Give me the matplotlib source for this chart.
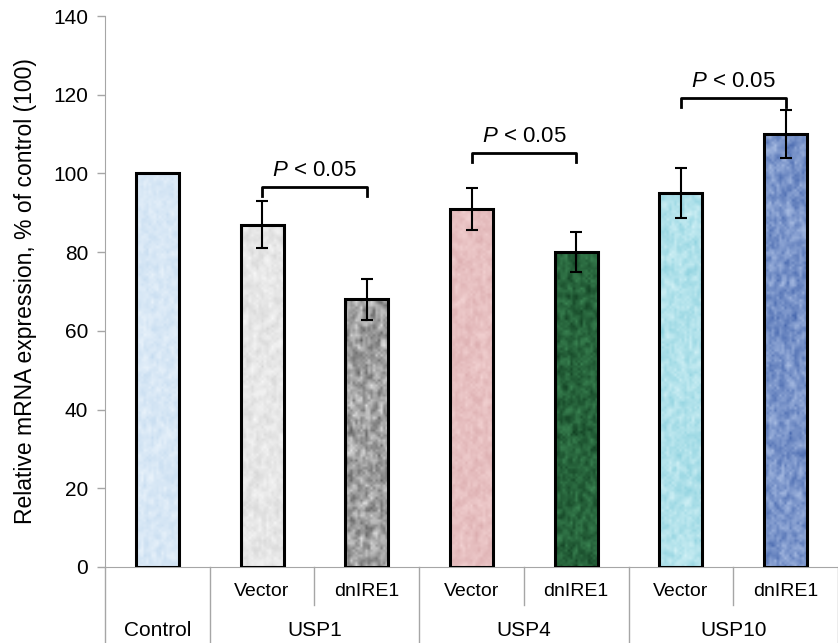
import numpy as np
import matplotlib
matplotlib.use("Agg")
import matplotlib.pyplot as plt
from matplotlib.lines import Line2D

plt.rcParams['font.family'] = ['Liberation Sans', 'DejaVu Sans']
plt.rcParams['mathtext.fontset'] = 'custom'
plt.rcParams['mathtext.it'] = 'Liberation Sans:italic'
plt.rcParams['mathtext.rm'] = 'Liberation Sans'

# ==========================================
# DATA
# ==========================================
groups = ['Control', 'USP1', 'USP4', 'USP10']
sub_labels = ['', 'Vector', 'dnIRE1', 'Vector', 'dnIRE1', 'Vector', 'dnIRE1']
values = [100, 87, 68, 91, 80, 95, 110]
errors = [0, 6, 5.3, 5.3, 5, 6.3, 6]
# pasangan yang dibandingkan (index bar kiri, index bar kanan, tinggi bracket)
pairs = [(1, 2, 96.5), (3, 4, 105.2), (5, 6, 119.2)]
p_text = '$P$ < 0.05'

# warna tekstur: (warna terang, warna gelap)
textures = [('#eaf3fb', '#c6dcf0'), ('#fafafa', '#d6d6d6'), ('#e2e2e2', '#5e5e5e'),
            ('#f3d3d3', '#dcaeb0'), ('#3f8c58', '#0e3a1e'), ('#d2f1f6', '#8fd2df'),
            ('#a9bde3', '#4566ad')]

# ==========================================
# FIGURE
# ==========================================
fig = plt.figure(figsize=(8.38, 6.43), dpi=100)
ax = fig.add_axes([105 / 838, 1 - 567 / 643, 1 - 105 / 838, 551 / 643])

x = np.arange(len(values))
bars = ax.bar(x, values, width=0.41, color='none', edgecolor='black', linewidth=2.2, zorder=3)

# isi bar dengan tekstur bintik-bintik (ukuran noise ikut ukuran piksel bar)
rng = np.random.default_rng(3)
for b, (c1, c2) in zip(bars, textures):
    rows = max(int(b.get_height() * 3.936 / 2.5), 2)
    noise = rng.random((rows, 17))
    noise = (noise + np.roll(noise, 1, 0) + np.roll(noise, 1, 1) + np.roll(noise, -1, 0)) / 4
    noise = (noise - noise.min()) / (noise.max() - noise.min())
    cmap = matplotlib.colors.LinearSegmentedColormap.from_list('t', [c2, c1])
    im = ax.imshow(noise, cmap=cmap, aspect='auto', interpolation='bilinear',
                   extent=[b.get_x(), b.get_x() + b.get_width(), 0, b.get_height()], zorder=2)
    im.set_clip_path(b)

ax.errorbar(x[1:], values[1:], yerr=errors[1:], fmt='none', ecolor='black',
            elinewidth=1.5, capsize=4, capthick=1.5, zorder=4)

# bracket signifikansi
for i, j, h in pairs:
    ax.plot([i, i, j, j], [h - 2.3, h, h, h - 2.3], color='black', lw=2, zorder=4)
    ax.text((i + j) / 2, h + 1.5, p_text, ha='center', va='bottom', fontsize=16)

ax.set_xlim(-0.5, 6.5)
ax.set_ylim(0, 140)
ax.set_yticks(range(0, 141, 20))
ax.tick_params(axis='y', labelsize=15, color='#a6a6a6', length=6, width=1, pad=6)
ax.set_xticks([])
for s in ['top', 'right']:
    ax.spines[s].set_visible(False)
ax.spines['left'].set_color('#a6a6a6')
ax.spines['bottom'].set_color('#a6a6a6')
ax.set_ylabel('Relative mRNA expression, % of control (100)', fontsize=16.5, labelpad=12)

# ==========================================
# LABEL KATEGORI DI BAWAH SUMBU
# ==========================================
trans = ax.get_xaxis_transform()
bottom = -(643 - 567) / 551
short = -(605 - 567) / 551
ax.add_line(Line2D([-0.5, -0.5], [0, bottom], transform=trans, color='#a6a6a6', lw=1, clip_on=False))
for k in range(len(values)):
    xs = k + 0.5
    yb = bottom if k % 2 == 0 else short
    ax.add_line(Line2D([xs, xs], [0, yb], transform=trans, color='#a6a6a6', lw=1, clip_on=False))
    if sub_labels[k]:
        ax.text(k, -(591 - 567) / 551, sub_labels[k], transform=trans, ha='center', va='center', fontsize=14)

group_pos = [0, 1.5, 3.5, 5.5]
for g, gx in zip(groups, group_pos):
    ax.text(gx, -(630 - 567) / 551, g, transform=trans, ha='center', va='center', fontsize=15)

plt.savefig('out.png', dpi=100)
